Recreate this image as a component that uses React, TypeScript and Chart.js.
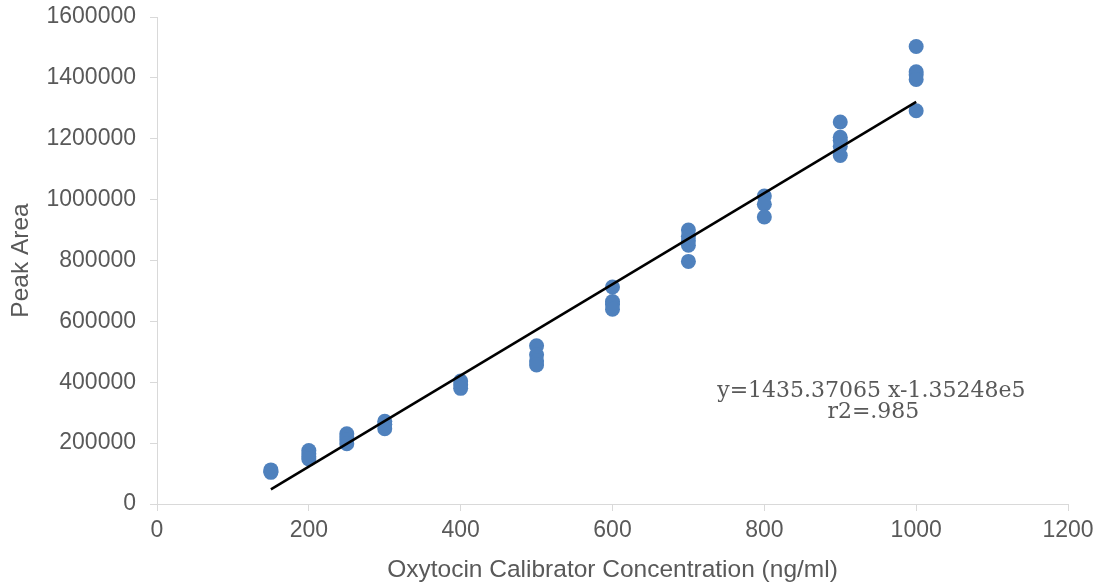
import React, { useEffect, useRef } from "react";
import { Chart, registerables } from "chart.js";

Chart.register(...registerables);

// Calibrator concentrations (ng/ml) and measured peak areas
const conc150 = [112000, 108000, 104000];
const conc200 = [176000, 165000, 155000, 148000];
const conc250 = [231000, 220000, 210000, 198000];
const conc300 = [272000, 262000, 247000];
const conc400 = [404000, 392000, 380000];
const conc500 = [520000, 490000, 470000, 457000];
const conc600 = [713000, 665000, 655000, 640000];
const conc700 = [900000, 880000, 865000, 850000, 797000];
const conc800 = [1012000, 985000, 943000];
const conc900 = [1255000, 1205000, 1195000, 1175000, 1145000];
const conc1000 = [1503000, 1420000, 1410000, 1395000, 1292000];

const levels = [150, 200, 250, 300, 400, 500, 600, 700, 800, 900, 1000];
const peakAreas = [conc150, conc200, conc250, conc300, conc400, conc500, conc600, conc700, conc800, conc900, conc1000];

// Fitted line as drawn
const trendX = [150, 1000];
const trendY = [48000, 1321000];

const equationText = "y=1435.37065 x-1.35248e5";
const r2Text = "r2=.985";
const annotationAnchor = { x: 941, y: 350000 };

const xTitle = "Oxytocin Calibrator Concentration (ng/ml)";
const yTitle = "Peak Area";

export default function App() {
  const ref = useRef<HTMLCanvasElement | null>(null);

  useEffect(() => {
    document.body.style.margin = "0";
    const canvas = ref.current;
    if (!canvas) return;

    const points: { x: number; y: number }[] = [];
    levels.forEach((lv, i) => {
      peakAreas[i].forEach((v) => points.push({ x: lv, y: v }));
    });
    const trend = trendX.map((x, i) => ({ x, y: trendY[i] }));

    const annotationPlugin = {
      id: "eqAnnotation",
      afterDatasetsDraw(chart: any) {
        const ctx = chart.ctx;
        const xs = chart.scales.x;
        const ys = chart.scales.y;
        const px = xs.getPixelForValue(annotationAnchor.x);
        const py = ys.getPixelForValue(annotationAnchor.y);
        ctx.save();
        ctx.font = '22px "DejaVu Serif"';
        ctx.fillStyle = "#595959";
        ctx.textAlign = "center";
        ctx.textBaseline = "alphabetic";
        ctx.fillText(equationText, px, py);
        ctx.fillText(r2Text, px + 2, py + 21);
        ctx.restore();
      },
    };

    const chart = new Chart(canvas, {
      type: "scatter",
      data: {
        datasets: [
          {
            label: "Peak Area",
            data: trend,
            type: "line",
            showLine: true,
            borderColor: "#000000",
            borderWidth: 2.5,
            pointRadius: 0,
            fill: false,
            order: 0,
          } as any,
          {
            label: "Calibrators",
            data: points,
            backgroundColor: "#4f81bd",
            borderWidth: 0,
            pointRadius: 7.5,
            order: 1,
          },
        ],
      },
      options: {
        animation: false,
        responsive: false,
        devicePixelRatio: 1,
        layout: { padding: { top: 17, right: 35, left: 0, bottom: 0 } },
        plugins: {
          legend: { display: false },
          tooltip: { enabled: false },
        },
        scales: {
          x: {
            type: "linear",
            min: 0,
            max: 1200,
            ticks: {
              stepSize: 200,
              color: "#595959",
              font: { family: '"Liberation Sans", Arial, sans-serif', size: 23 },
              padding: 6,
              callback: (v: any) => String(v),
            },
            grid: { drawOnChartArea: false, drawTicks: true, tickLength: 7, color: "#d9d9d9" },
            border: { display: true, color: "#d9d9d9", width: 1 },
            title: {
              display: true,
              text: xTitle,
              color: "#595959",
              font: { family: '"Liberation Sans", Arial, sans-serif', size: 24.5 },
              padding: { top: 0, bottom: 2 },
            },
            afterFit: (s: any) => {
              s.height = 83;
              s.paddingLeft = 0;
              s.paddingRight = 0;
            },
          },
          y: {
            type: "linear",
            min: 0,
            max: 1600000,
            ticks: {
              stepSize: 200000,
              color: "#595959",
              font: { family: '"Liberation Sans", Arial, sans-serif', size: 23 },
              padding: 14,
              callback: (v: any) => String(v),
            },
            grid: { drawOnChartArea: false, drawTicks: true, tickLength: 7, color: "#d9d9d9" },
            border: { display: true, color: "#d9d9d9", width: 1 },
            title: {
              display: true,
              text: yTitle,
              color: "#595959",
              font: { family: '"Liberation Sans", Arial, sans-serif', size: 24.5 },
              padding: { top: 7, bottom: 0 },
            },
            afterFit: (s: any) => {
              s.width = 157;
              s.paddingTop = 0;
              s.paddingBottom = 0;
            },
          },
        },
      },
      plugins: [annotationPlugin],
    });

    return () => chart.destroy();
  }, []);

  return (
    <div style={{ width: 1103, height: 587 }}>
      <canvas ref={ref} width={1103} height={587} />
    </div>
  );
}
